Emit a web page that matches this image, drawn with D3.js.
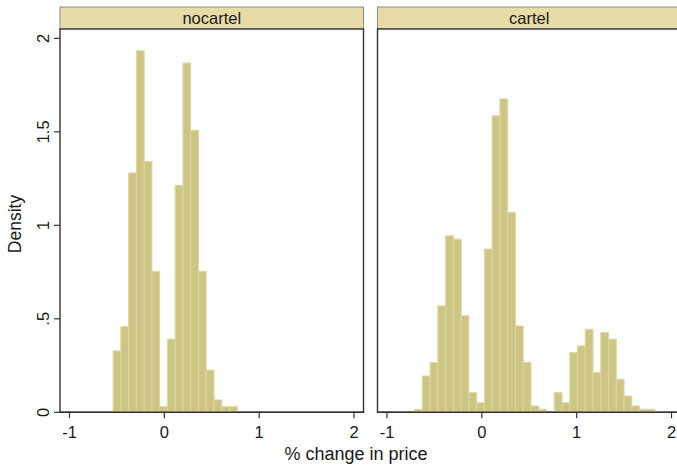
<!DOCTYPE html>
<html>
<head>
<meta charset="utf-8">
<script src="https://cdn.jsdelivr.net/npm/d3@7"></script>
<style>
  html, body { margin: 0; padding: 0; background: #fff; }
  svg { display: block; }
  text { font-family: "Liberation Sans", Arial, sans-serif; fill: #1a1a1a; }
</style>
</head>
<body>
<svg id="chart" width="677" height="465"></svg>
<script>
// ---- data ----
const panels = ["nocartel", "cartel"];
const binStarts = [-0.540, -0.709];
const binWidth = 0.0818;
const nocartelDensity = [0.328, 0.458, 1.28, 1.934, 1.342, 0.753, 0.03, 0.391, 1.213, 1.868, 1.508, 0.753, 0.226, 0.066, 0.03, 0.03];
const cartelDensity = [0.016, 0.194, 0.266, 0.569, 0.944, 0.926, 0.516, 0.105, 0.051, 0.873, 1.586, 1.676, 1.069, 0.462, 0.266, 0.034, 0.016, 0, 0.105, 0.051, 0.319, 0.355, 0.444, 0.212, 0.426, 0.391, 0.177, 0.087, 0.034, 0.016, 0.016];
const xTicks = [-1, 0, 1, 2];
const yTicks = [0, 0.5, 1, 1.5, 2];
const yTickLabels = ["0", ".5", "1", "1.5", "2"];
const xTitle = "% change in price";
const yTitle = "Density";

const seriesByPanel = [nocartelDensity, cartelDensity];

// ---- layout ----
const svg = d3.select("#chart");
const plotTop = 29, plotBottom = 412.3;
const panelX = [[60, 363.5], [377.5, 681]];
const headerTop = 7;

const y = d3.scaleLinear().domain([0, 2.05]).range([plotBottom, plotTop]);

const barFill = "#cdc583";
const barStroke = "#ddd6a3";
const axisColor = "#333333";

panels.forEach((name, i) => {
  const [x0, x1] = panelX[i];
  const x = d3.scaleLinear().domain([-1.1, 2.1]).range([x0, x1]);
  const g = svg.append("g");

  // header strip
  g.append("rect")
    .attr("x", x0).attr("y", headerTop)
    .attr("width", x1 - x0).attr("height", plotTop - headerTop)
    .attr("fill", "#e7dca8").attr("stroke", "#8c8c80").attr("stroke-width", 1);
  g.append("text")
    .attr("x", (x0 + x1) / 2).attr("y", 23.5)
    .attr("text-anchor", "middle")
    .attr("font-size", 16.5)
    .text(name);

  // plot frame
  g.append("rect")
    .attr("x", x0).attr("y", plotTop)
    .attr("width", x1 - x0).attr("height", plotBottom - plotTop)
    .attr("fill", "#ffffff").attr("stroke", axisColor).attr("stroke-width", 1.4);

  // bars
  const vals = seriesByPanel[i];
  const bins = vals.map((v, k) => ({ x0: binStarts[i] + k * binWidth, x1: binStarts[i] + (k + 1) * binWidth, v }));
  g.append("g").selectAll("rect")
    .data(bins.filter(b => b.v > 0))
    .join("rect")
    .attr("x", d => x(d.x0))
    .attr("width", d => x(d.x1) - x(d.x0))
    .attr("y", d => y(d.v))
    .attr("height", d => y(0) - y(d.v))
    .attr("fill", barFill)
    .attr("stroke", barStroke)
    .attr("stroke-width", 1);

  // x axis line (redraw on top)
  g.append("line")
    .attr("x1", x0).attr("x2", x1)
    .attr("y1", plotBottom).attr("y2", plotBottom)
    .attr("stroke", axisColor).attr("stroke-width", 1.4);

  // x ticks
  const xa = g.append("g");
  xTicks.forEach(t => {
    xa.append("line")
      .attr("x1", x(t)).attr("x2", x(t))
      .attr("y1", plotBottom).attr("y2", plotBottom + 6)
      .attr("stroke", axisColor).attr("stroke-width", 1.2);
    xa.append("text")
      .attr("x", x(t)).attr("y", 437.5)
      .attr("text-anchor", "middle")
      .attr("font-size", 16.5)
      .text(String(t));
  });

  // y axis ticks on first panel
  if (i === 0) {
    const ya = g.append("g");
    yTicks.forEach((t, k) => {
      ya.append("line")
        .attr("x1", x0 - 6).attr("x2", x0)
        .attr("y1", y(t)).attr("y2", y(t))
        .attr("stroke", axisColor).attr("stroke-width", 1.2);
      ya.append("text")
        .attr("transform", `translate(48.5,${y(t)}) rotate(-90)`)
        .attr("text-anchor", "middle")
        .attr("font-size", 16.5)
        .text(yTickLabels[k]);
    });
  }
});

// titles
svg.append("text")
  .attr("x", 356).attr("y", 459.5)
  .attr("text-anchor", "middle")
  .attr("font-size", 18)
  .text(xTitle);

svg.append("text")
  .attr("transform", "translate(21,224) rotate(-90)")
  .attr("text-anchor", "middle")
  .attr("font-size", 17.5)
  .text(yTitle);
</script>
</body>
</html>
